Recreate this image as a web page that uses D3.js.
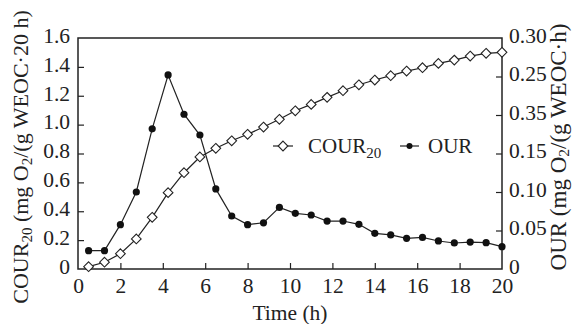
<!DOCTYPE html>
<html>
<head>
<meta charset="utf-8">
<script src="https://cdn.jsdelivr.net/npm/d3@7"></script>
<style>
  body { margin: 0; background: #fff; }
  svg text { font-family: "Liberation Serif", "DejaVu Serif", serif; fill: #222; }
</style>
</head>
<body>
<div id="container"></div>
<script>
var width = 574;
var height = 324;
var margin = {left: 78, right: 72, top: 38, bottom: 55};

// data
var times = [0.5, 1.25, 2, 2.75, 3.5, 4.25, 5, 5.75, 6.5, 7.25, 8, 8.75, 9.5, 10.25, 11,
             11.75, 12.5, 13.25, 14, 14.75, 15.5, 16.25, 17, 17.75, 18.5, 19.25, 20];
var cour20 = [0.016, 0.047, 0.106, 0.208, 0.358, 0.529, 0.667, 0.776, 0.836, 0.888, 0.933,
              0.983, 1.037, 1.096, 1.14, 1.189, 1.235, 1.276, 1.309, 1.339, 1.371, 1.394,
              1.424, 1.447, 1.475, 1.494, 1.501];
var our = [0.0238, 0.0238, 0.0576, 0.100, 0.182, 0.252, 0.201, 0.174, 0.104, 0.0688, 0.0576,
           0.060, 0.080, 0.0723, 0.0701, 0.0623, 0.0623, 0.058, 0.0463, 0.0442, 0.0398, 0.041,
           0.0364, 0.0338, 0.035, 0.0342, 0.029];

var xTicks = [0, 2, 4, 6, 8, 10, 12, 14, 16, 18, 20];
var leftTicks = [0, 0.2, 0.4, 0.6, 0.8, 1.0, 1.2, 1.4, 1.6];
var leftTickLabels = ['0', '0.2', '0.4', '0.6', '0.8', '1.0', '1.2', '1.4', '1.6'];
var rightTicks = [0, 0.05, 0.10, 0.15, 0.20, 0.25, 0.30];
var rightTickLabels = ['0', '0.05', '0.10', '0.15', '0.35', '0.25', '0.30'];

var svg = d3.select('#container').append('svg')
    .attr('width', width).attr('height', height);

var x = d3.scaleLinear().domain([0, 20]).range([margin.left, width - margin.right]);
var yL = d3.scaleLinear().domain([0, 1.6]).range([height - margin.bottom, margin.top]);
var yR = d3.scaleLinear().domain([0, 0.30]).range([height - margin.bottom, margin.top]);

var fontSize = 21.5;

// bottom axis
var xAxis = svg.append('g')
    .attr('transform', 'translate(0,' + (height - margin.bottom) + ')')
    .call(d3.axisBottom(x).tickValues(xTicks).tickSizeInner(-6).tickSizeOuter(0).tickPadding(9));
// left axis
var lAxis = svg.append('g')
    .attr('transform', 'translate(' + margin.left + ',0)')
    .call(d3.axisLeft(yL).tickValues(leftTicks).tickSizeInner(-6).tickSizeOuter(0).tickPadding(8)
        .tickFormat(function(d, i){ return leftTickLabels[i]; }));
// right axis
var rAxis = svg.append('g')
    .attr('transform', 'translate(' + (width - margin.right) + ',0)')
    .call(d3.axisRight(yR).tickValues(rightTicks).tickSizeInner(-6).tickSizeOuter(0).tickPadding(7)
        .tickFormat(function(d, i){ return rightTickLabels[i]; }));

[xAxis, lAxis, rAxis].forEach(function(a){
    a.select('.domain').remove();
    a.selectAll('line').attr('stroke', '#222').attr('stroke-width', 1.2);
    a.selectAll('text').attr('font-size', fontSize).attr('fill', '#222')
        .style('font-family', '"Liberation Serif", serif');
});
// hide ticks that sit on the frame
xAxis.selectAll('.tick').filter(function(d){ return d === 0 || d === 20; }).select('line').remove();
lAxis.selectAll('.tick').filter(function(d){ return d === 0 || d === 1.6; }).select('line').remove();
rAxis.selectAll('.tick').filter(function(d){ return d === 0 || d === 0.30; }).select('line').remove();
xAxis.selectAll('text').attr('dy', '0.72em');
lAxis.selectAll('text').attr('dy', '0.2em');
rAxis.selectAll('text').attr('dy', '0.2em');

// frame
svg.append('rect')
    .attr('x', margin.left).attr('y', margin.top)
    .attr('width', width - margin.left - margin.right)
    .attr('height', height - margin.top - margin.bottom)
    .attr('fill', 'none').attr('stroke', '#222').attr('stroke-width', 1.5);

// lines
var ourLine = d3.line().x(function(d, i){ return x(times[i]); }).y(function(d){ return yR(d); });
var courLine = d3.line().x(function(d, i){ return x(times[i]); }).y(function(d){ return yL(d); });

svg.append('path').attr('d', ourLine(our))
    .attr('fill', 'none').attr('stroke', '#222').attr('stroke-width', 1.2);
svg.append('path').attr('d', courLine(cour20))
    .attr('fill', 'none').attr('stroke', '#222').attr('stroke-width', 1.2);

var diamond = d3.symbol().type(d3.symbolDiamond2).size(60);

svg.selectAll('.dot').data(our).enter().append('circle')
    .attr('cx', function(d, i){ return x(times[i]); })
    .attr('cy', function(d){ return yR(d); })
    .attr('r', 3.6).attr('fill', '#111');

svg.selectAll('.dia').data(cour20).enter().append('path')
    .attr('d', diamond)
    .attr('transform', function(d, i){ return 'translate(' + x(times[i]) + ',' + yL(d) + ')'; })
    .attr('fill', '#fff').attr('stroke', '#222').attr('stroke-width', 1.1);

// legend
var leg = svg.append('g').attr('transform', 'translate(273,146)');
leg.append('line').attr('x1', 0).attr('x2', 20).attr('stroke', '#222').attr('stroke-width', 1.2);
leg.append('path').attr('d', diamond).attr('transform', 'translate(10,0)')
    .attr('fill', '#fff').attr('stroke', '#222').attr('stroke-width', 1.1);
var t1 = leg.append('text').attr('x', 35).attr('y', 7).attr('font-size', 21);
t1.append('tspan').text('COUR');
t1.append('tspan').attr('font-size', 15).attr('dy', 5).text('20');
leg.append('line').attr('x1', 127).attr('x2', 146).attr('stroke', '#222').attr('stroke-width', 1.2);
leg.append('circle').attr('cx', 136.5).attr('cy', 0).attr('r', 3).attr('fill', '#111');
leg.append('text').attr('x', 155).attr('y', 7).attr('font-size', 21).text('OUR');

// axis titles
svg.append('text').attr('x', (margin.left + width - margin.right) / 2).attr('y', 320)
    .attr('text-anchor', 'middle').attr('font-size', 21.5).text('Time (h)');

var lt = svg.append('text').attr('transform', 'translate(28,157) rotate(-90)')
    .attr('text-anchor', 'middle').attr('font-size', 22);
lt.append('tspan').text('COUR');
lt.append('tspan').attr('font-size', 15).attr('dy', 4).text('20');
lt.append('tspan').attr('dy', -4).text(' (mg O');
lt.append('tspan').attr('font-size', 15).attr('dy', 4).text('2');
lt.append('tspan').attr('dy', -4).text('/(g WEOC·20 h)');

var rt = svg.append('text').attr('transform', 'translate(566,147) rotate(-90)')
    .attr('text-anchor', 'middle').attr('font-size', 23);
rt.append('tspan').text('OUR (mg O');
rt.append('tspan').attr('font-size', 15.5).attr('dy', 3).text('2');
rt.append('tspan').attr('dy', -3).text('/(g WEOC·h)');
</script>
</body>
</html>
